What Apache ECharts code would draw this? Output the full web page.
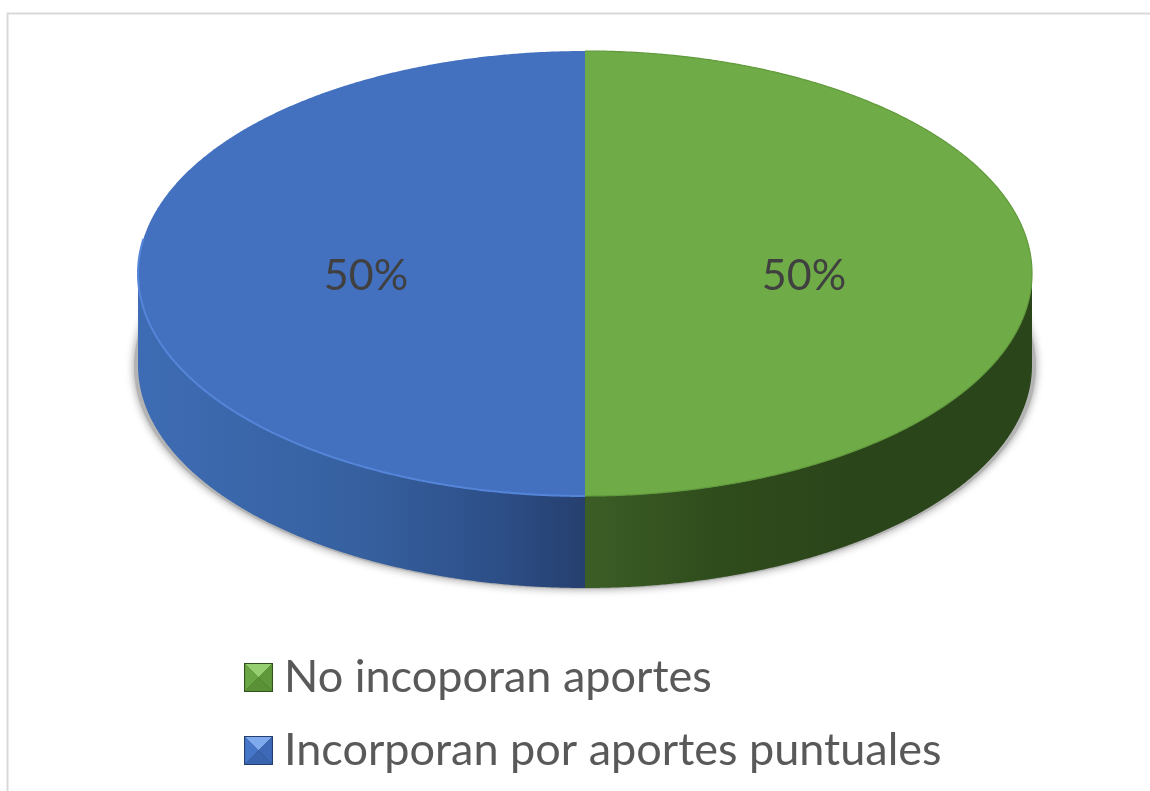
<!DOCTYPE html>
<html>
<head>
<meta charset="utf-8">
<style>
  html, body { margin: 0; padding: 0; background: #fff; }
  #chart { width: 1150px; height: 791px; }
</style>
<script src="https://cdn.jsdelivr.net/npm/echarts@6/dist/echarts.min.js"></script>
</head>
<body>
<div id="chart"></div>
<script>
const categories = ['No incoporan aportes', 'Incorporan por aportes puntuales'];
const shares = [50, 50];

// pie drawn flat: ellipse of the top face plus the wall below it
const cx = 585, cy = 273.5, rx = 447, ry = 222.5, depth = 92;
const labelRadius = 0.49;
const total = shares.reduce((a, b) => a + b, 0);

const palette = [
    {
        top: '#6fab47', rim: '#619a3c', rimWidth: 1.2, rimFrom: 0, rimTo: 2,
        wall: [[0, '#3c5e26'], [0.3, '#2f4c1c'], [0.6, '#2b451a'], [1, '#2b451a']],
        bevel: ['#95cf70', '#6ba645', '#5f983b', '#5a9137', '#2f4f1b']
    },
    {
        top: '#4371c0', rim: '#5585d8', rimWidth: 2, rimFrom: 0, rimTo: 1.55,
        wall: [[0, '#3e6cb4'], [0.5, '#36609f'], [0.8, '#2d4f88'], [1, '#263f6f']],
        bevel: ['#7fabee', '#4676c8', '#3d69b6', '#3a64ad', '#223f70']
    }
];

const bevelIcon = (c) => {
    const svg = '<svg xmlns="http://www.w3.org/2000/svg" width="28" height="28">'
        + '<rect width="28" height="28" fill="' + c[4] + '"/>'
        + '<polygon points="1,1 27,1 14,14" fill="' + c[0] + '"/>'
        + '<polygon points="1,1 14,14 1,27" fill="' + c[1] + '"/>'
        + '<polygon points="27,1 14,14 27,27" fill="' + c[2] + '"/>'
        + '<polygon points="1,27 14,14 27,27" fill="' + c[3] + '"/>'
        + '</svg>';
    return 'image://data:image/svg+xml;charset=utf-8,' + encodeURIComponent(svg);
};

const arc = (from, to, dy) => {
    const pts = [];
    const steps = Math.max(2, Math.ceil(Math.abs(to - from) / 0.005));
    for (let i = 0; i <= steps; i++) {
        const t = from + (to - from) * i / steps;
        pts.push([cx + rx * Math.sin(t), cy - ry * Math.cos(t) + dy]);
    }
    return pts;
};

const sliceSeries = categories.map((name, idx) => {
    const before = shares.slice(0, idx).reduce((a, b) => a + b, 0);
    const colors = palette[idx];

    return {
        name: name,
        type: 'custom',
        coordinateSystem: 'none',
        silent: true,
        itemStyle: { color: colors.top },
        data: [[shares[idx]]],
        z: 3,
        renderItem: (params, api) => {
            const value = api.value(0);
            const start = before / total * Math.PI * 2;
            const end = (before + value) / total * Math.PI * 2;
            const mid = (start + end) / 2;
            // only the front half of the wall can be seen
            const wallFrom = Math.max(start, Math.PI / 2);
            const wallTo = Math.min(end, Math.PI * 1.5);
            const children = [];

            if (wallTo > wallFrom) {
                children.push({
                    type: 'polygon',
                    shape: { points: arc(wallFrom, wallTo, 0).concat(arc(wallTo, wallFrom, depth)) },
                    style: {
                        fill: {
                            type: 'linear',
                            x: 0, y: 0, x2: 1, y2: 0,
                            colorStops: colors.wall.map((s) => ({ offset: s[0], color: s[1] }))
                        }
                    }
                });
            }
            children.push({
                type: 'polygon',
                shape: { points: [[cx, cy]].concat(arc(start, end, 0)) },
                style: { fill: colors.top }
            });
            children.push({
                type: 'polyline',
                shape: { points: arc(start + colors.rimFrom, Math.min(end, Math.PI * colors.rimTo), 0) },
                style: { fill: 'none', stroke: colors.rim, lineWidth: colors.rimWidth }
            });
            children.push({
                type: 'text',
                style: {
                    text: Math.round(value / total * 100) + '%',
                    x: cx + rx * labelRadius * Math.sin(mid),
                    y: cy + 3 - ry * labelRadius * Math.cos(mid),
                    align: 'center',
                    verticalAlign: 'middle',
                    fill: '#404040',
                    font: '43px Lato'
                }
            });
            return { type: 'group', children: children };
        }
    };
});

const chart = echarts.init(document.getElementById('chart'));
chart.setOption({
    backgroundColor: '#ffffff',
    animation: false,
    legend: {
        left: 244,
        top: 655,
        orient: 'vertical',
        itemWidth: 29,
        itemHeight: 29,
        itemGap: 28,
        selectedMode: false,
        padding: 0,
        textStyle: {
            color: '#595959',
            fontFamily: 'Lato',
            fontSize: 45,
            padding: [0, 0, 0, 6]
        },
        data: categories.map((name, i) => ({ name: name, icon: bevelIcon(palette[i].bevel) }))
    },
    graphic: [
        {
            type: 'rect',
            z: -10,
            shape: { x: 7.5, y: 13.5, width: 1300, height: 900 },
            style: { fill: 'none', stroke: '#d9d9d9', lineWidth: 2 }
        },
        {
            // soft shadow under the disc
            type: 'ellipse',
            z: -5,
            shape: { cx: cx, cy: cy + depth + 1, rx: rx + 4, ry: ry },
            style: { fill: '#b4b4b4', shadowBlur: 9, shadowColor: 'rgba(0,0,0,0.4)' }
        }
    ],
    series: sliceSeries
});
</script>
</body>
</html>
